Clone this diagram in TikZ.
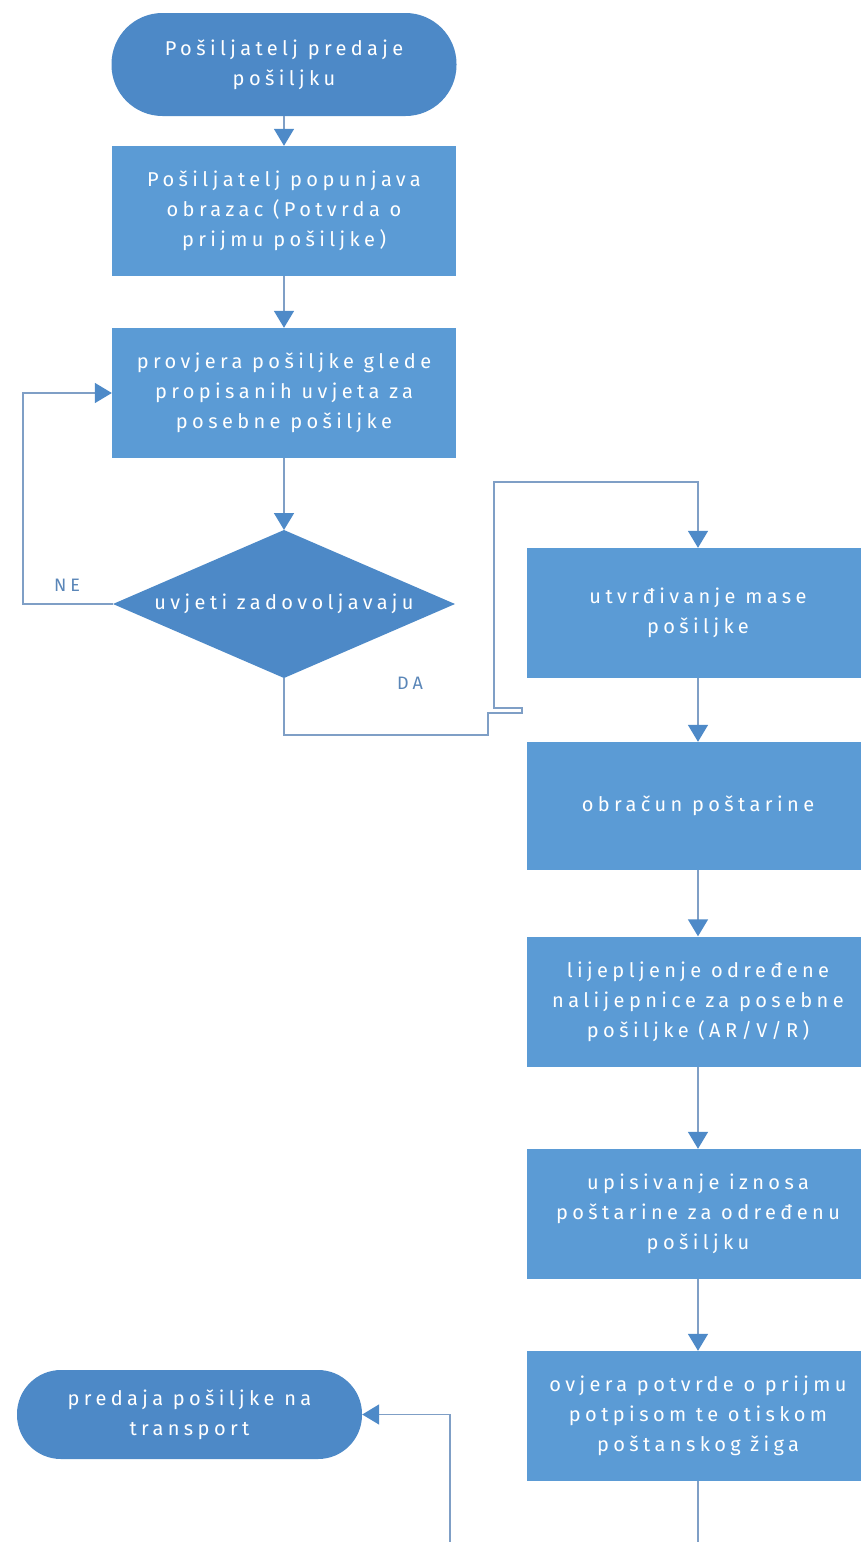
\documentclass[tikz,border=0pt]{standalone}
\usepackage{fontspec}
\setmainfont{Fira Sans}[LetterSpace=22]
\usetikzlibrary{arrows.meta}
\definecolor{boxblue}{HTML}{5B9BD5}
\definecolor{darkblue}{HTML}{4D89C7}
\definecolor{linecol}{HTML}{7F9FC6}
\definecolor{tipcol}{HTML}{4E8AC8}
\definecolor{lblcol}{HTML}{5A86B8}
\tikzset{
  x=1pt, y=-1pt,
  txt/.style={text=white, align=center, font=\fontsize{20}{30}\selectfont, inner sep=0pt},
  procbox/.style={txt, rectangle, fill=boxblue, minimum width=344pt, minimum height=130pt},
  termbox/.style={txt, rectangle, fill=darkblue, rounded corners=44pt, minimum width=345pt},
  conn/.style={draw=linecol, line width=1.6pt, -{Triangle[length=17pt,width=20pt,color=tipcol]}},
  lbl/.style={text=lblcol, font=\fontsize{18}{20}\selectfont, inner sep=0pt}
}
\begin{document}
\begin{tikzpicture}
\useasboundingbox (0,0) rectangle (861,1542);
\fill[white] (0,0) rectangle (861,1542);

% left column
\node[termbox, minimum height=103pt, rounded corners=51pt] (start) at (284,64.5) {Pošiljatelj predaje\\pošiljku};
\node[procbox] (b1) at (284,211) {Pošiljatelj popunjava\\obrazac (Potvrda o\\prijmu pošiljke)};
\node[procbox] (b2) at (284,393) {provjera pošiljke glede\\propisanih uvjeta za\\posebne pošiljke};

% decision diamond
\coordinate (decT) at (284,530);
\coordinate (decB) at (284,678);
\coordinate (decL) at (113,604);
\coordinate (decR) at (455,604);
\fill[darkblue] (decT) -- (decR) -- (decB) -- (decL) -- cycle;
\node[txt] (dec) at (284,604) {uvjeti zadovoljavaju};

% right column
\node[procbox, minimum width=342pt] (r1) at (698,613) {utvrđivanje mase\\pošiljke};
\node[procbox, minimum width=342pt, minimum height=128pt] (r2) at (698,806) {obračun poštarine};
\node[procbox, minimum width=342pt] (r3) at (698,1001.5) {lijepljenje određene\\nalijepnice za posebne\\pošiljke (AR/V/R)};
\node[procbox, minimum width=342pt] (r4) at (698,1214) {upisivanje iznosa\\poštarine za određenu\\pošiljku};
\node[procbox, minimum width=342pt] (r5) at (698,1416) {ovjera potvrde o prijmu\\potpisom te otiskom\\poštanskog žiga};

% end terminator
\node[termbox, minimum height=89pt, rounded corners=44pt] (end) at (189.5,1414.5) {predaja pošiljke na\\transport};

% connectors
\draw[conn] (start.south) -- (b1.north);
\draw[conn] (b1.south) -- (b2.north);
\draw[conn] (b2.south) -- (decT);
\draw[conn] (decL) -- (23,604) |- (b2.west);
\draw[conn] (decB) -- (284,735) -- (488,735) -- (488,713) -- (522,713) -- (522,708) -- (494,708) -- (494,482) -| (r1.north);
\draw[conn] (r1.south) -- (r2.north);
\draw[conn] (r2.south) -- (r3.north);
\draw[conn] (r3.south) -- (r4.north);
\draw[conn] (r4.south) -- (r5.north);
\draw[conn] (r5.south) -- (698,1556) -- (450,1556) |- (end.east);

% labels
\node[lbl] (ne) at (67,585) {NE};
\node[lbl] (da) at (410,683) {DA};
\end{tikzpicture}
\end{document}
